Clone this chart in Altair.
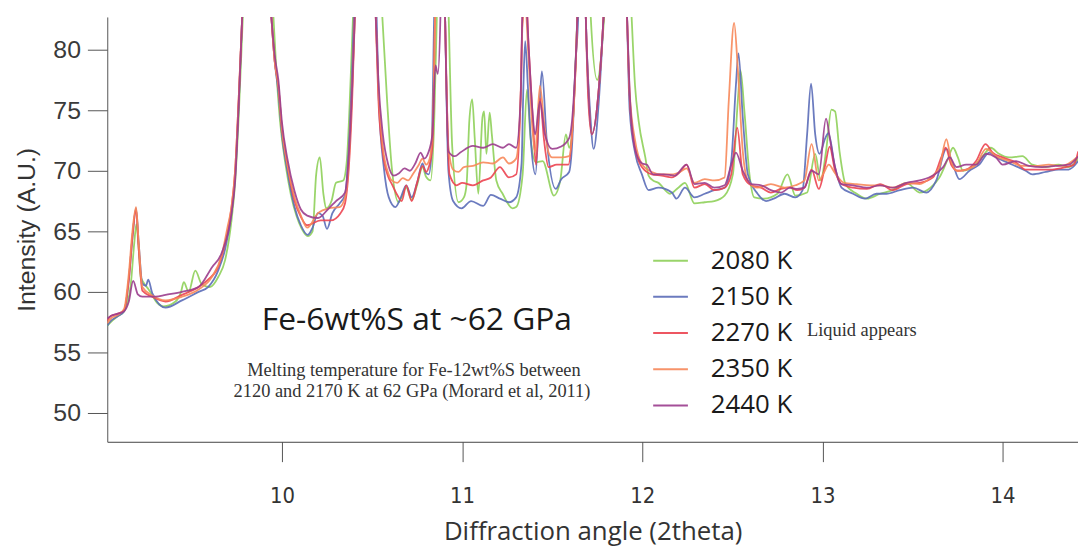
import altair as alt
import pandas as pd

LABELS = ["2080 K", "2150 K", "2270 K", "2350 K", "2440 K"]
COLORS = ["#8fd05a", "#5b6db8", "#ec4451", "#f7885a", "#9b3d8d"]

X_TICKS = [10, 11, 12, 13, 14]
Y_TICKS = [50, 55, 60, 65, 70, 75, 80]
X_DOMAIN = [9.0303, 14.4187]
Y_DOMAIN = [47.62, 82.70]

TITLE_TEXT = "Fe-6wt%S at ~62 GPa"
NOTE_LINE1 = "Melting temperature for Fe-12wt%S between"
NOTE_LINE2 = "2120 and 2170 K at 62 GPa (Morard et al, 2011)"
LIQUID_TEXT = "Liquid appears"

S_2080 = [(9.03,57.2),(9.05,57.5),(9.09,58.0),(9.124,58.4),(9.16,60.5),(9.18,64.0),(9.192,65.6),(9.205,63.5),(9.216,61.25),(9.235,60.7),(9.26,60.2),(9.307,59.1),(9.344,58.8),(9.409,59.2),(9.44,60.0),(9.455,60.8),(9.482,60.0),(9.519,61.75),(9.556,60.6),(9.60,60.4),(9.647,61.25),(9.684,62.6),(9.72,65.9),(9.74,69.0),(9.76,74.5),(9.785,83.5),(9.865,110),(9.95,83.5),(9.97,78),(9.99,74),(10.02,70.5),(10.05,68),(10.08,66.3),(10.11,65.2),(10.143,64.6),(10.17,65.0),(10.19,69.7),(10.21,71.1),(10.23,68.1),(10.245,66.9),(10.275,67.5),(10.30,69.0),(10.34,69.2),(10.36,70.8),(10.38,77.1),(10.395,83),(10.475,110),(10.556,83),(10.584,75.7),(10.61,70.2),(10.648,67.4),(10.69,68.6),(10.72,67.6),(10.75,68.8),(10.78,70.3),(10.80,69.5),(10.825,69.2),(10.845,74),(10.86,83),(10.89,105),(10.925,83),(10.945,72),(10.98,67.4),(11.01,67.8),(11.025,68.9),(11.04,74.1),(11.056,75.9),(11.07,72.7),(11.09,68.1),(11.113,74.4),(11.122,74.9),(11.135,71.4),(11.153,74.8),(11.165,73.0),(11.19,69.2),(11.225,68.1),(11.28,66.9),(11.30,67.0),(11.336,69.7),(11.36,76.7),(11.38,72.7),(11.41,70.7),(11.447,70.8),(11.51,67.95),(11.545,69.2),(11.576,73.0),(11.595,71.9),(11.615,74.1),(11.64,83),(11.675,100),(11.713,83),(11.75,77.5),(11.79,83),(11.865,110),(11.94,83),(11.96,77),(11.98,74.1),(12.017,71.1),(12.035,69.6),(12.06,69.2),(12.09,69.0),(12.154,68.1),(12.2,68.6),(12.237,69.0),(12.29,67.3),(12.347,67.4),(12.40,67.5),(12.457,67.95),(12.503,69.7),(12.53,75.7),(12.545,78.3),(12.567,74.9),(12.595,69.7),(12.622,67.8),(12.675,67.7),(12.75,68.1),(12.806,69.7),(12.85,67.95),(12.915,68.2),(12.96,71.4),(12.99,69.2),(13.02,71.6),(13.05,75.05),(13.07,74.9),(13.095,71.6),(13.128,68.9),(13.19,68.1),(13.247,67.7),(13.32,68.1),(13.39,68.4),(13.467,69.0),(13.54,68.2),(13.6,68.6),(13.65,69.45),(13.697,71.0),(13.725,71.9),(13.752,71.1),(13.78,70.0),(13.835,70.3),(13.89,71.2),(13.935,71.9),(13.98,71.4),(14.036,71.1),(14.11,71.2),(14.165,70.5),(14.24,70.3),(14.31,70.5),(14.367,70.3),(14.42,71.0)]

S_2150 = [(9.03,57.2),(9.05,57.6),(9.09,58.0),(9.124,58.4),(9.15,61.0),(9.17,64.5),(9.19,66.9),(9.205,64.0),(9.225,60.7),(9.245,60.5),(9.258,61.0),(9.28,59.9),(9.354,58.7),(9.445,59.3),(9.537,60.0),(9.59,60.4),(9.647,61.8),(9.684,63.5),(9.72,66.5),(9.74,69.5),(9.76,75.5),(9.78,83),(9.86,110),(9.94,83),(9.96,79),(9.98,76.5),(10.0,73),(10.03,70.0),(10.07,67.0),(10.105,65.5),(10.143,64.7),(10.17,65.3),(10.2,66.5),(10.225,66.3),(10.25,65.2),(10.28,66.5),(10.32,67.3),(10.35,68.0),(10.37,71.6),(10.39,78.5),(10.40,83),(10.46,110),(10.525,83),(10.538,75.7),(10.566,70.2),(10.593,67.8),(10.63,67.0),(10.66,67.8),(10.69,68.8),(10.72,67.8),(10.75,69.0),(10.78,70.6),(10.80,69.8),(10.815,69.7),(10.83,71.4),(10.845,83),(10.875,105),(10.905,83),(10.924,70),(10.95,67.5),(10.997,66.9),(11.05,67.5),(11.117,67.1),(11.16,68.0),(11.21,67.7),(11.26,67.4),(11.30,67.8),(11.33,70.6),(11.34,76.8),(11.35,80.7),(11.365,77),(11.383,72.2),(11.407,69.7),(11.43,75.5),(11.443,78.2),(11.47,72.5),(11.52,68.5),(11.55,69.3),(11.594,69.9),(11.61,72),(11.63,79),(11.645,83),(11.665,100),(11.686,83),(11.71,75),(11.73,71.8),(11.76,76),(11.786,83),(11.85,110),(11.915,83),(11.93,75),(11.96,71.5),(11.998,69.7),(12.035,68.4),(12.09,68.6),(12.164,68.2),(12.19,67.7),(12.237,68.6),(12.29,67.8),(12.347,68.1),(12.40,68.4),(12.457,68.6),(12.494,70.8),(12.52,77.1),(12.534,79.7),(12.558,74.4),(12.586,69.7),(12.64,68.1),(12.687,67.5),(12.73,67.7),(12.79,68.1),(12.85,67.8),(12.89,68.4),(12.915,73.0),(12.937,77.2),(12.96,73.0),(12.984,71.4),(13.016,72.7),(13.033,73.1),(13.07,70.3),(13.106,68.6),(13.17,68.1),(13.236,67.7),(13.3,68.1),(13.355,68.1),(13.43,68.4),(13.504,68.6),(13.577,68.2),(13.632,69.2),(13.688,71.8),(13.725,70.5),(13.76,69.3),(13.816,70.0),(13.87,70.5),(13.926,71.5),(13.98,71.0),(14.055,70.5),(14.128,70.0),(14.165,69.7),(14.24,69.9),(14.31,70.1),(14.367,70.1),(14.42,70.8)]

S_2270 = [(9.03,57.6),(9.05,58.0),(9.09,58.2),(9.124,58.5),(9.15,61.0),(9.17,64.5),(9.19,66.8),(9.205,63.5),(9.225,60.1),(9.28,59.6),(9.354,59.2),(9.445,59.75),(9.537,60.4),(9.59,61.0),(9.647,62.1),(9.684,64.0),(9.72,67.0),(9.74,70),(9.76,76),(9.78,83),(9.86,110),(9.94,83),(9.96,79),(9.98,77),(10.0,73.5),(10.03,70.5),(10.07,67.5),(10.105,66.2),(10.14,65.5),(10.215,65.9),(10.27,65.9),(10.325,66.5),(10.35,67.3),(10.37,70),(10.39,76),(10.405,83),(10.46,110),(10.52,83),(10.535,76),(10.56,71.5),(10.59,69.5),(10.61,68.9),(10.64,68.0),(10.665,67.5),(10.69,68.8),(10.72,67.5),(10.75,69.0),(10.78,70.4),(10.80,69.9),(10.815,70.3),(10.835,72),(10.85,83),(10.878,105),(10.905,83),(10.93,69.7),(10.97,68.8),(11.0,69.0),(11.06,68.8),(11.117,69.2),(11.16,69.45),(11.21,70.3),(11.26,69.45),(11.30,69.7),(11.326,76.8),(11.335,83),(11.35,86),(11.37,80),(11.396,73.3),(11.41,70.5),(11.432,76.0),(11.455,72.5),(11.48,70.3),(11.525,70.5),(11.59,70.5),(11.61,73),(11.64,83),(11.665,100),(11.686,83),(11.70,76),(11.72,73.0),(11.76,77),(11.786,83),(11.85,110),(11.915,83),(11.93,76),(11.96,71.9),(11.998,70.3),(12.053,69.7),(12.108,69.6),(12.164,69.45),(12.21,69.9),(12.246,70.5),(12.29,68.6),(12.347,68.9),(12.40,68.4),(12.457,68.6),(12.494,69.7),(12.527,73.55),(12.558,69.7),(12.604,68.8),(12.66,68.6),(12.714,68.2),(12.77,68.5),(12.82,68.6),(12.86,68.4),(12.9,68.6),(12.94,70.1),(12.98,68.5),(13.016,70.5),(13.04,72.0),(13.07,70.0),(13.106,68.9),(13.17,68.6),(13.247,68.5),(13.32,68.9),(13.39,68.4),(13.467,68.9),(13.54,69.0),(13.614,69.45),(13.66,71.1),(13.684,71.9),(13.715,70.5),(13.752,70.0),(13.798,70.1),(13.853,70.8),(13.905,72.2),(13.945,71.5),(14.0,71.1),(14.073,70.7),(14.128,70.1),(14.2,70.1),(14.275,70.1),(14.35,70.3),(14.395,70.5),(14.42,71.6)]

S_2350 = [(9.03,57.4),(9.05,57.8),(9.09,58.1),(9.124,58.6),(9.15,61.5),(9.17,65.0),(9.19,67.0),(9.205,64.0),(9.225,60.4),(9.28,59.7),(9.354,59.3),(9.445,59.6),(9.537,60.2),(9.61,61.2),(9.665,63.0),(9.70,65.5),(9.72,67.0),(9.74,70),(9.76,76),(9.78,83),(9.86,110),(9.94,83),(9.96,79),(9.98,77),(10.0,73.5),(10.03,70.5),(10.07,67.8),(10.105,66.3),(10.14,65.3),(10.2,66.5),(10.26,66.9),(10.32,67.0),(10.35,67.8),(10.37,70.5),(10.39,77),(10.405,83),(10.46,110),(10.52,83),(10.535,77),(10.56,72),(10.59,69.8),(10.61,69.2),(10.64,69.0),(10.67,69.4),(10.70,69.2),(10.73,69.8),(10.76,70.5),(10.78,71.0),(10.80,70.5),(10.82,71.0),(10.84,75),(10.85,83),(10.88,105),(10.905,83),(10.924,72),(10.95,70.1),(10.98,69.9),(11.01,70.3),(11.06,70.4),(11.117,70.7),(11.17,70.6),(11.227,71.1),(11.26,70.6),(11.30,71.0),(11.325,76),(11.335,82),(11.35,83.5),(11.37,79),(11.39,73.5),(11.405,71.5),(11.432,77.0),(11.455,74),(11.48,71.5),(11.50,71.1),(11.55,71.1),(11.594,71.2),(11.615,74),(11.64,83),(11.665,100),(11.686,83),(11.70,77),(11.72,73.0),(11.76,77),(11.786,83),(11.85,110),(11.915,83),(11.93,76.5),(11.96,72.5),(12.0,70.5),(12.053,69.9),(12.108,69.7),(12.164,69.7),(12.21,69.9),(12.246,70.2),(12.29,69.0),(12.347,69.3),(12.40,69.2),(12.457,69.45),(12.48,75.7),(12.51,82.2),(12.53,78.5),(12.558,71.6),(12.586,69.2),(12.64,68.6),(12.714,68.9),(12.79,68.6),(12.85,68.8),(12.9,69.2),(12.94,72.2),(12.98,69.2),(13.01,69.9),(13.035,70.5),(13.07,69.8),(13.12,69.0),(13.19,68.9),(13.265,68.8),(13.33,68.8),(13.39,68.6),(13.467,69.0),(13.54,68.9),(13.6,69.45),(13.65,70.3),(13.688,72.6),(13.715,70.8),(13.745,70.0),(13.8,70.1),(13.853,70.5),(13.908,71.8),(13.963,71.2),(14.036,70.8),(14.11,70.4),(14.18,70.4),(14.257,70.5),(14.33,70.4),(14.42,71.2)]

S_2440 = [(9.03,57.8),(9.05,58.0),(9.09,58.2),(9.124,58.4),(9.15,59.2),(9.174,60.9),(9.20,59.8),(9.225,59.6),(9.30,59.6),(9.354,59.75),(9.445,60.0),(9.537,60.4),(9.61,62.0),(9.665,63.2),(9.72,66.5),(9.74,69.2),(9.76,75.5),(9.78,83),(9.86,110),(9.94,83),(9.96,79.5),(9.98,77.5),(10.0,74),(10.03,71),(10.07,68.3),(10.105,66.8),(10.14,66.3),(10.2,66.1),(10.26,66.9),(10.3,67.5),(10.35,68.2),(10.37,71),(10.39,77),(10.405,83),(10.46,110),(10.52,83),(10.535,77.5),(10.56,73),(10.59,70.5),(10.62,69.6),(10.65,69.8),(10.68,70.2),(10.71,70.0),(10.74,70.6),(10.77,71.5),(10.79,71.0),(10.81,71.4),(10.835,73),(10.852,78.7),(10.865,78.0),(10.88,83),(10.89,95),(10.905,83),(10.924,71.6),(10.96,71.2),(10.99,71.5),(11.06,72.05),(11.117,71.9),(11.17,72.2),(11.227,71.9),(11.26,72.2),(11.30,71.9),(11.325,76),(11.335,83),(11.35,85),(11.37,80),(11.39,75),(11.405,73),(11.432,75.7),(11.46,73),(11.50,71.8),(11.55,72.0),(11.594,72.7),(11.615,75),(11.64,83),(11.665,100),(11.686,83),(11.70,77),(11.72,73.0),(11.76,77),(11.786,83),(11.85,110),(11.915,83),(11.93,76.5),(11.96,71.8),(12.0,70.6),(12.026,70.5),(12.06,69.7),(12.12,69.7),(12.18,69.6),(12.246,70.5),(12.29,68.9),(12.347,69.0),(12.40,68.6),(12.457,68.8),(12.494,70.5),(12.52,71.5),(12.558,70.0),(12.604,68.9),(12.66,68.8),(12.714,68.4),(12.77,68.2),(12.82,68.6),(12.86,68.5),(12.9,68.6),(12.94,70.0),(12.98,69.7),(13.02,74.3),(13.043,72.5),(13.07,70.3),(13.106,68.9),(13.17,68.8),(13.247,68.6),(13.32,68.8),(13.39,68.6),(13.467,69.0),(13.54,69.2),(13.614,69.6),(13.67,70.3),(13.706,71.1),(13.745,70.3),(13.798,70.5),(13.853,70.5),(13.908,71.4),(13.963,71.1),(14.0,70.5),(14.073,70.8),(14.146,70.4),(14.22,70.3),(14.294,70.4),(14.367,70.5),(14.42,71.2)]

SERIES = [S_2080, S_2150, S_2270, S_2350, S_2440]

rows = []
for label, pts in zip(LABELS, SERIES):
    for i, (x, y) in enumerate(pts):
        rows.append({"series": label, "angle": x, "intensity": y, "idx": i})
df = pd.DataFrame(rows)

lines = alt.Chart(df).mark_line(
    clip=True, interpolate="monotone", strokeWidth=1.8, opacity=0.9
).encode(
    x=alt.X("angle:Q",
            scale=alt.Scale(domain=X_DOMAIN, nice=False, zero=False),
            axis=alt.Axis(values=X_TICKS, title="Diffraction angle (2theta)",
                          grid=False, tickSize=20, tickColor="#555", domainColor="#444",
                          labelFont="DejaVu Sans Condensed, Liberation Sans", labelFontSize=22,
                          labelColor="#333", labelPadding=24,
                          titleFont="Open Sans", titleFontSize=26, titleFontWeight="normal",
                          titleColor="#333", titlePadding=12)),
    y=alt.Y("intensity:Q",
            scale=alt.Scale(domain=Y_DOMAIN, nice=False, zero=False),
            axis=alt.Axis(values=Y_TICKS, title="Intensity (A.U.)",
                          grid=False, tickSize=20, tickColor="#555", domainColor="#555",
                          labelFont="Liberation Sans", labelFontSize=25,
                          labelColor="#3a3a3a", labelPadding=7,
                          titleFont="Liberation Sans", titleFontSize=25, titleFontWeight="normal",
                          titleColor="#333", titlePadding=13)),
    color=alt.Color("series:N",
                    scale=alt.Scale(domain=LABELS, range=COLORS),
                    legend=alt.Legend(orient="none", legendX=549, legendY=227, title=None,
                                      symbolType="stroke", symbolSize=1225, symbolStrokeWidth=2,
                                      labelFont="Open Sans", labelFontSize=26, labelColor="#1a1a1a",
                                      labelOffset=22, rowPadding=4.5, padding=0, labelLimit=0)),
    order="idx:Q",
)

def text_layer(txt, px, py, font, size, align="center", color="#1a1a1a", baseline="alphabetic"):
    return alt.Chart(pd.DataFrame({"t": [txt]})).mark_text(
        font=font, fontSize=size, align=align, baseline=baseline, color=color
    ).encode(x=alt.value(px), y=alt.value(py), text="t:N")

t1 = text_layer(TITLE_TEXT, 312, 315, "Open Sans", 32)
t2 = text_layer(NOTE_LINE1, 309, 362, "Liberation Serif", 18.5, color="#333")
t3 = text_layer(NOTE_LINE2, 307, 383, "Liberation Serif", 18.5, color="#333")
t4 = text_layer(LIQUID_TEXT, 705, 315, "Liberation Serif", 18.5, align="left", color="#333", baseline="middle")

chart = alt.layer(lines, t1, t2, t3, t4).properties(
    width=978, height=428,
    padding={"left": 100, "top": 7, "right": 0, "bottom": 106},
    autosize="none",
).configure_view(stroke=None)

chart.save("out.html", embed_options={"renderer": "svg", "actions": False})
